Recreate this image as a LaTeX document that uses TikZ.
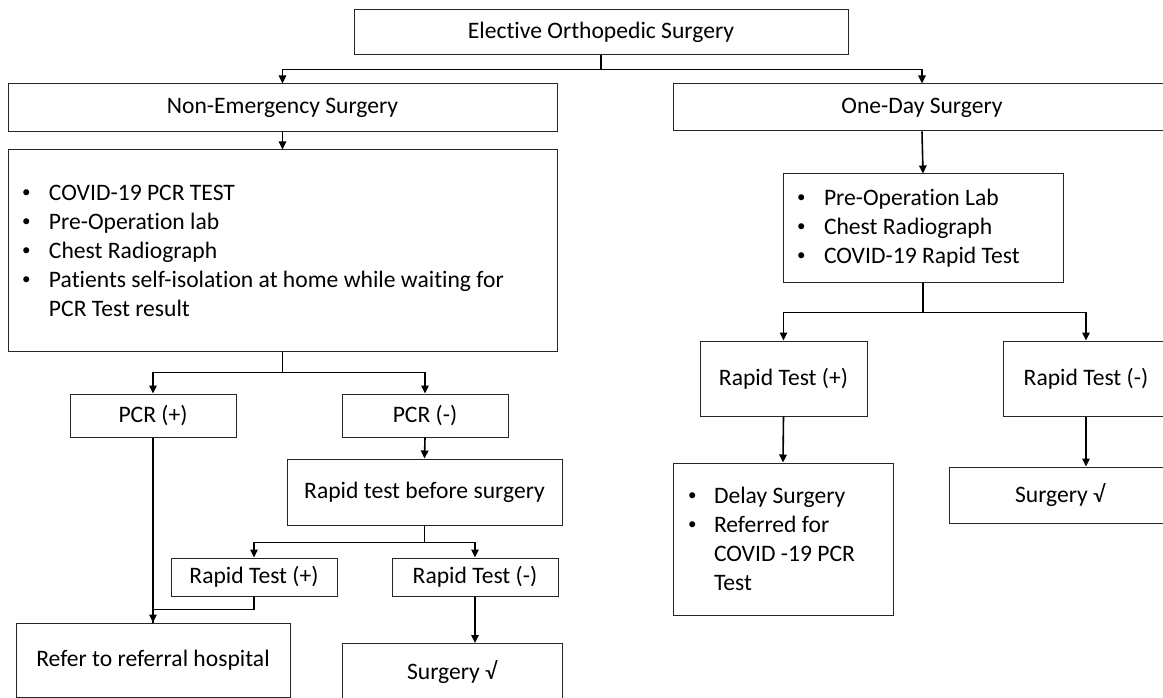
\documentclass[tikz,border=0pt]{standalone}
\usepackage{fontspec}
\setmainfont{Carlito}[Ligatures={NoCommon}]
\usetikzlibrary{arrows.meta}
\newcommand{\mybul}{\makebox[27pt][l]{\raisebox{0.12em}{\scalebox{0.72}{•}}}}
\newcommand{\myind}{\hspace*{27pt}}
\begin{document}
\begin{tikzpicture}[x=1pt,y=-1pt,
  box/.style={draw=black!85, line width=1pt, rectangle, inner sep=0pt, align=center,
    font=\fontsize{23.6}{29}\selectfont},
  listbox/.style={box, align=flush left, inner xsep=14pt},
  conn/.style={draw=black, line width=1.6pt, -{Triangle[length=8pt,width=7.5pt]}},
  plain/.style={draw=black, line width=1.6pt}]
\useasboundingbox (0,0) rectangle (1163,698);
\clip (0,0) rectangle (1163,698);
\fill[white] (0,0) rectangle (1163,698);

% nodes
\node[box, minimum width=494pt, minimum height=45pt] (top) at (601,32.5) {Elective Orthopedic Surgery};
\node[box, minimum width=549pt, minimum height=48pt] (nonemerg) at (282.5,108) {Non-Emergency Surgery};
\node[box, minimum width=498pt, minimum height=47pt] (oneday) at (922,107.5) {One-Day Surgery};
\node[listbox, text width=521pt, minimum width=549pt, minimum height=201pt] (big) at (282.5,250.5)
  {\mybul COVID-19 PCR TEST\\ \mybul Pre-Operation lab\\ \mybul Chest Radiograph\\
   \mybul Patients self-isolation at home while waiting for\\ \myind PCR Test result};
\node[box, minimum width=166pt, minimum height=43pt] (pcrp) at (153,415.5) {PCR (+)};
\node[box, minimum width=166pt, minimum height=43pt] (pcrn) at (425,415.5) {PCR (-)};
\node[box, minimum width=275pt, minimum height=66pt] (rapidb) at (424.5,492) {Rapid test before surgery};
\node[box, minimum width=166pt, minimum height=38pt] (rtp) at (254,577) {Rapid Test (+)};
\node[box, minimum width=166pt, minimum height=38pt] (rtn) at (475,577) {Rapid Test (-)};
\node[box, minimum width=274pt, minimum height=74pt] (refer) at (153,660) {Refer to referral hospital};
\node[box, minimum width=220pt, minimum height=80pt, anchor=north] (surgL) at (452,643) {};
\node[box, draw=none] (surgLt) at (452,672) {Surgery √};

\node[listbox, text width=252pt, minimum width=280pt, minimum height=108pt] (odlist) at (923,228)
  {\mybul Pre-Operation Lab\\ \mybul Chest Radiograph\\ \mybul COVID-19 Rapid Test};
\node[box, minimum width=167pt, minimum height=75pt] (rtp2) at (783.5,378.5) {Rapid Test (+)};
\node[box, minimum width=166pt, minimum height=75pt] (rtn2) at (1086,378.5) {Rapid Test (-)};
\node[listbox, inner xsep=15pt, text width=190pt, minimum width=220pt, minimum height=152pt] (delay) at (783,539)
  {\makebox[26pt][l]{\raisebox{0.12em}{\scalebox{0.72}{•}}}Delay Surgery\\ \makebox[26pt][l]{\raisebox{0.12em}{\scalebox{0.72}{•}}}Referred for\\ \hspace*{26pt}COVID -19 PCR\\ \hspace*{26pt}Test};
\node[box, minimum width=222pt, minimum height=56pt] (surgR) at (1060,495) {Surgery √};

% connectors
\draw[conn] (top.south) -- ++(0,14) -| (nonemerg.north);
\draw[conn] (top.south) -- ++(0,14) -| (oneday.north);
\draw[conn] (nonemerg.south) -- (big.north);
\draw[conn] (big.south) -- ++(0,21) -| (pcrp.north);
\draw[conn] (big.south) -- ++(0,21) -| (pcrn.north);
\draw[conn] (pcrp.south) -- (refer.north);
\draw[plain] (rtp.south) -- ++(0,13) -| (refer.north);
\draw[conn] (pcrn.south) -- (rapidb.north);
\draw[conn] (rapidb.south) -- ++(0,17) -| (rtp.north);
\draw[conn] (rapidb.south) -- ++(0,17) -| (rtn.north);
\draw[conn] (rtn.south) -- (rtn.south |- surgL.north);

\draw[conn] (oneday.south) -- (odlist.north);
\draw[conn] (odlist.south) -- ++(0,30) -| (rtp2.north);
\draw[conn] (odlist.south) -- ++(0,30) -| (rtn2.north);
\draw[conn] (rtp2.south) -- (delay.north);
\draw[conn] (rtn2.south) -- (rtn2.south |- surgR.north);
\end{tikzpicture}
\end{document}
